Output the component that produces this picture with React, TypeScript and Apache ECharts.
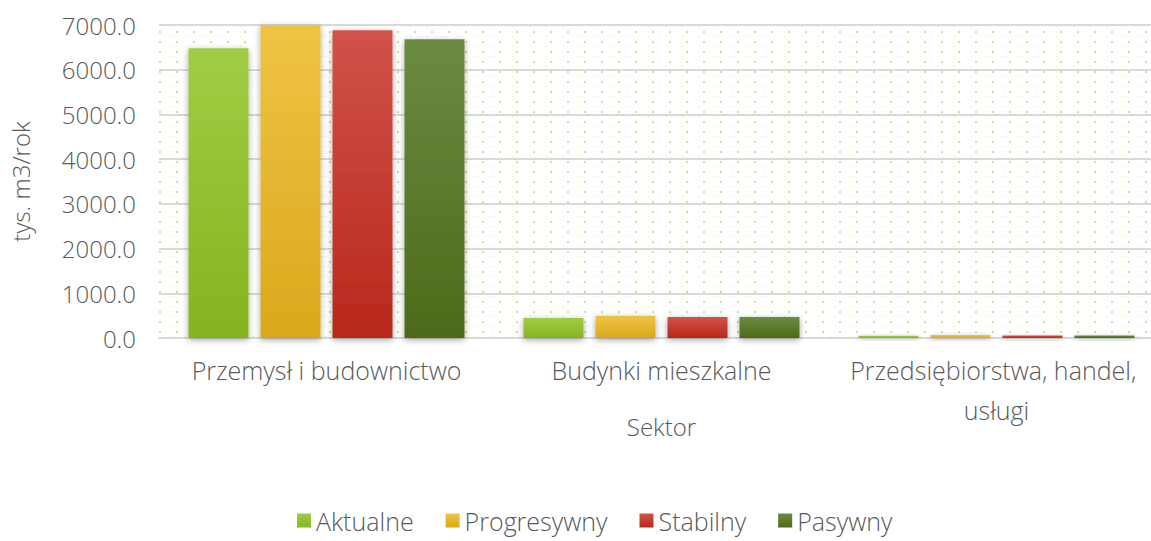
import React, { useEffect, useRef } from "react";
import * as echarts from "echarts";

const categories = ["Przemysł i budownictwo", "Budynki mieszkalne", "Przedsiębiorstwa, handel, usługi"];
const seriesNames = ["Aktualne", "Progresywny", "Stabilny", "Pasywny"];
const aktualne = [6480, 450, 50];
const progresywny = [7000, 495, 65];
const stabilny = [6880, 470, 55];
const pasywny = [6680, 470, 55];
const yTicks = { min: 0, max: 7000, interval: 1000 };

const colorStops: [string, string][] = [
  ["#9fcd45", "#84b41f"],
  ["#efc444", "#daa81c"],
  ["#d1524a", "#b8281a"],
  ["#6c8b42", "#4d6a19"],
];

function makePattern(): string {
  const c = document.createElement("canvas");
  c.width = 17;
  c.height = 10;
  const ctx = c.getContext("2d")!;
  ctx.fillStyle = "#ffffff";
  ctx.fillRect(0, 0, 17, 10);
  ctx.fillStyle = "#c9e59a";
  ctx.fillRect(6, 1, 2, 2);
  ctx.fillStyle = "#dcedc0";
  ctx.fillRect(15, 6, 1, 1);
  ctx.fillRect(2, 6, 1, 1);
  return c.toDataURL();
}

export default function App() {
  const ref = useRef<HTMLDivElement>(null);
  useEffect(() => {
    if (!ref.current) return;
    const chart = echarts.init(ref.current, undefined, { renderer: "svg" });
    const font = "'Open Sans', 'Noto Sans', sans-serif";
    const txt = { color: "#595959", fontFamily: font, fontWeight: 300 as any };
    const data = [aktualne, progresywny, stabilny, pasywny];
    chart.setOption({
      animation: false,
      textStyle: { fontFamily: font },
      grid: {
        left: 159,
        right: -13,
        top: 25,
        bottom: 203,
        outerBoundsMode: "none",
        containLabel: false,
        show: true,
        borderWidth: 0,
        backgroundColor: { image: makePattern(), repeat: "repeat" },
      },
      legend: {
        top: 503,
        left: 292,
        icon: "rect",
        itemWidth: 14,
        itemHeight: 14,
        itemGap: 32,
        textStyle: { ...txt, fontSize: 25 },
        data: seriesNames,
      },
      xAxis: {
        type: "category",
        data: categories,
        name: "Sektor",
        nameLocation: "middle",
        nameGap: 76,
        nameMoveOverlap: false,
        nameTextStyle: { ...txt, fontSize: 24 },
        axisLine: { lineStyle: { color: "#d9d9d9", width: 2 } },
        axisTick: { show: false },
        axisLabel: {
          ...txt,
          fontSize: 25,
          margin: 12,
          width: 310,
          overflow: "break",
          lineHeight: 40,
          interval: 0,
        },
      },
      yAxis: {
        type: "value",
        min: yTicks.min,
        max: yTicks.max,
        interval: yTicks.interval,
        name: "tys. m3/rok",
        nameLocation: "middle",
        nameGap: 127,
        nameMoveOverlap: false,
        nameTextStyle: { ...txt, fontSize: 24 },
        axisLine: { show: false },
        axisTick: { show: false },
        axisLabel: {
          ...txt,
          fontSize: 24,
          margin: 23,
          formatter: (v: number) => v.toFixed(1),
        },
        splitLine: { lineStyle: { color: "#d9d9d9", width: 2 } },
      },
      series: seriesNames.map((name, i) => ({
        name,
        type: "bar",
        data: data[i],
        barWidth: 60,
        barGap: "20%",
        itemStyle: {
          color: new echarts.graphic.LinearGradient(0, 0, 0, 1, [
            { offset: 0, color: colorStops[i][0] },
            { offset: 1, color: colorStops[i][1] },
          ]),
          shadowBlur: 6,
          shadowColor: "rgba(0,0,0,0.35)",
          shadowOffsetY: 2,
        },
      })),
    });
    return () => chart.dispose();
  }, []);
  return <div ref={ref} style={{ width: 1151, height: 541, position: "absolute", left: 0, top: 0 }} />;
}
